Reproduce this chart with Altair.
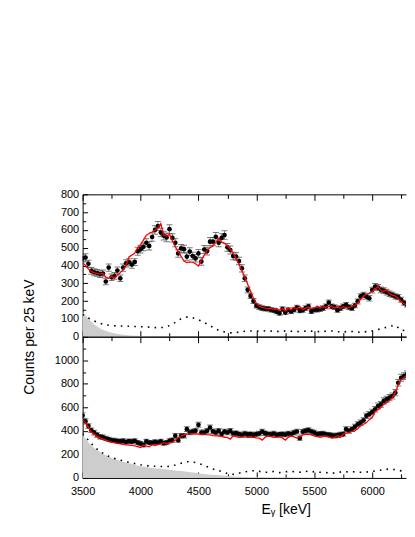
import altair as alt
import pandas as pd

# ---------------- data ----------------
E = [3500, 3525, 3550, 3575, 3600, 3625, 3650, 3675,
     3700, 3725, 3750, 3775, 3800, 3825, 3850, 3875,
     3900, 3925, 3950, 3975, 4000, 4025, 4050, 4075,
     4100, 4125, 4150, 4175, 4200, 4225, 4250, 4275,
     4300, 4325, 4350, 4375, 4400, 4425, 4450, 4475,
     4500, 4525, 4550, 4575, 4600, 4625, 4650, 4675,
     4700, 4725, 4750, 4775, 4800, 4825, 4850, 4875,
     4900, 4925, 4950, 4975, 5000, 5025, 5050, 5075,
     5100, 5125, 5150, 5175, 5200, 5225, 5250, 5275,
     5300, 5325, 5350, 5375, 5400, 5425, 5450, 5475,
     5500, 5525, 5550, 5575, 5600, 5625, 5650, 5675,
     5700, 5725, 5750, 5775, 5800, 5825, 5850, 5875,
     5900, 5925, 5950, 5975, 6000, 6025, 6050, 6075,
     6100, 6125, 6150, 6175, 6200, 6225, 6250, 6275,
     6300, 6325, 6350]

TOP_COUNTS = [440, 445, 410, 370, 362, 358, 352, 355,
              310, 388, 334, 341, 372, 328, 388, 412,
              418, 405, 420, 480, 492, 505, 528, 510,
              560, 600, 622, 585, 568, 558, 604, 555,
              528, 468, 496, 492, 450, 478, 453, 440,
              468, 422, 490, 481, 534, 534, 561, 528,
              555, 571, 502, 487, 453, 450, 425, 384,
              328, 263, 229, 200, 174, 166, 160, 157,
              157, 151, 147, 140, 132, 155, 136, 151,
              142, 150, 164, 146, 149, 160, 170, 142,
              151, 151, 155, 160, 170, 192, 170, 166,
              149, 160, 170, 179, 166, 160, 175, 198,
              226, 235, 225, 216, 262, 282, 276, 263,
              259, 250, 241, 235, 226, 222, 207, 190,
              179, 179, 198]

TOP_ERR = [21, 21, 20, 19, 19, 19, 19, 19,
           18, 20, 18, 19, 19, 18, 20, 20,
           20, 20, 20, 22, 22, 22, 23, 23,
           24, 24, 25, 24, 24, 24, 25, 23,
           23, 22, 22, 22, 21, 22, 21, 21,
           22, 21, 22, 22, 23, 23, 24, 23,
           24, 24, 22, 22, 21, 21, 21, 20,
           18, 16, 15, 14, 13, 13, 13, 13,
           13, 13, 12, 12, 12, 13, 12, 12,
           12, 12, 13, 12, 12, 13, 13, 12,
           12, 12, 13, 13, 13, 14, 13, 13,
           12, 13, 13, 13, 13, 13, 13, 14,
           15, 15, 15, 15, 16, 17, 17, 16,
           16, 16, 16, 15, 15, 15, 14, 14,
           13, 13, 14]

TOP_FIT = [415, 400, 380, 366, 360, 355, 352, 356,
           334, 328, 340, 328, 345, 360, 375, 400,
           448, 458, 470, 500, 515, 543, 570, 580,
           588, 600, 610, 636, 570, 565, 575, 540,
           505, 478, 452, 425, 416, 420, 418, 410,
           397, 430, 458, 485, 500, 510, 530, 552,
           530, 525, 510, 492, 468, 440, 405, 370,
           335, 295, 255, 215, 188, 172, 165, 160,
           158, 160, 152, 158, 148, 158, 145, 160,
           150, 165, 155, 170, 152, 160, 165, 158,
           160, 172, 160, 168, 165, 170, 172, 160,
           170, 158, 168, 162, 165, 170, 175, 188,
           210, 228, 238, 244, 255, 267, 282, 258,
           255, 263, 240, 232, 229, 215, 198, 185,
           179, 188, 180]

BOT_COUNTS = [530, 480, 440, 405, 385, 365, 350, 345,
              335, 328, 320, 318, 312, 310, 315, 305,
              312, 308, 315, 300, 292, 280, 310, 300,
              298, 306, 300, 310, 295, 301, 315, 321,
              358, 321, 358, 358, 414, 386, 394, 400,
              451, 386, 386, 400, 428, 395, 386, 400,
              372, 394, 386, 400, 377, 380, 372, 365,
              377, 370, 372, 366, 372, 377, 394, 380,
              372, 370, 377, 366, 370, 372, 368, 377,
              372, 385, 394, 338, 392, 400, 406, 394,
              385, 372, 375, 377, 370, 366, 362, 358,
              363, 368, 372, 414, 400, 414, 434, 456,
              470, 490, 527, 541, 560, 583, 611, 625,
              654, 668, 682, 696, 724, 808, 851, 865,
              879, 935, 1006]

BOT_ERR = [23, 22, 21, 20, 20, 19, 19, 19,
           18, 18, 18, 18, 18, 18, 18, 17,
           18, 18, 18, 17, 17, 17, 18, 17,
           17, 18, 17, 18, 17, 17, 18, 18,
           19, 18, 19, 19, 20, 20, 20, 20,
           21, 20, 20, 20, 21, 20, 20, 20,
           19, 20, 20, 20, 19, 19, 19, 19,
           19, 19, 19, 19, 19, 19, 20, 19,
           19, 19, 19, 19, 19, 19, 19, 19,
           19, 20, 20, 18, 20, 20, 20, 20,
           20, 19, 19, 19, 19, 19, 19, 19,
           19, 19, 19, 20, 20, 20, 21, 21,
           22, 22, 23, 23, 23, 24, 25, 25,
           26, 26, 26, 26, 27, 28, 29, 29,
           30, 31, 32]

BOT_FIT = [495, 470, 430, 390, 372, 355, 340, 330,
           321, 312, 305, 300, 293, 290, 285, 280,
           279, 276, 273, 266, 259, 280, 270, 265,
           282, 275, 282, 290, 300, 290, 300, 305,
           320, 344, 358, 365, 372, 375, 377, 375,
           372, 372, 372, 368, 365, 360, 358, 360,
           352, 344, 344, 330, 358, 350, 344, 348,
           349, 345, 344, 344, 340, 338, 321, 345,
           358, 350, 344, 346, 349, 340, 321, 345,
           358, 348, 338, 352, 366, 370, 372, 365,
           358, 350, 344, 350, 358, 348, 338, 344,
           358, 344, 372, 380, 386, 395, 400, 420,
           442, 456, 470, 495, 513, 563, 580, 597,
           625, 639, 660, 682, 724, 794, 837, 851,
           875, 907, 963]

# smooth background components, sampled every 50 keV
BG_E = [3500, 3550, 3600, 3650, 3700, 3750, 3800, 3850, 3900, 3950,
        4000, 4050, 4100, 4150, 4200, 4250, 4300, 4350, 4400, 4450,
        4500, 4550, 4600, 4650, 4700, 4750, 4800, 4850, 4900, 4950,
        5000, 5050, 5100, 5150, 5200, 5250, 5300, 5350, 5400, 5450,
        5500, 5550, 5600, 5650, 5700, 5750, 5800, 5850, 5900, 5950,
        6000, 6050, 6100, 6150, 6200, 6250, 6300, 6350]

TOP_DOTTED = [125, 105, 88, 75, 66, 62, 60, 60, 58, 57,
              56, 55, 52, 50, 52, 62, 80, 100, 110, 106,
              95, 80, 62, 42, 30, 24, 20, 26, 30, 32,
              30, 34, 30, 32, 28, 32, 30, 28, 30, 32,
              30, 28, 30, 32, 28, 26, 30, 28, 24, 28,
              32, 40, 48, 58, 64, 36, 34, 38]

BOT_DOTTED = [375, 320, 265, 225, 195, 172, 158, 145, 132, 122,
              112, 104, 100, 98, 96, 98, 110, 125, 138, 135,
              125, 105, 85, 68, 55, 38, 30, 40, 52, 60,
              62, 50, 48, 55, 45, 52, 56, 48, 50, 58,
              52, 48, 45, 40, 45, 55, 50, 52, 48, 50,
              55, 62, 70, 76, 70, 60, 58, 62]

TOP_GREY = [140, 100, 68, 46, 32, 22, 15, 10, 7, 5,
            4, 3, 3, 2, 2, 2, 1, 1, 1, 1,
            1, 0, 0, 0, 0, 0, 0, 0, 0, 0,
            0, 0, 0, 0, 0, 0, 0, 0, 0, 0,
            0, 0, 0, 0, 0, 0, 0, 0, 0, 0,
            0, 0, 0, 0, 0, 0, 0, 0]

BOT_GREY = [365, 300, 255, 220, 192, 170, 152, 138, 125, 112,
            100, 92, 85, 80, 75, 70, 64, 58, 52, 46,
            40, 34, 28, 24, 20, 16, 12, 10, 8, 6,
            5, 5, 4, 4, 3, 3, 3, 2, 2, 2,
            2, 1, 1, 1, 1, 1, 1, 0, 0, 0,
            0, 0, 0, 0, 0, 0, 0, 0]

X_MAJOR = [3500, 4000, 4500, 5000, 5500, 6000]
X_MINOR = [3750, 4250, 4750, 5250, 5750, 6250]
TOP_Y_MAJOR = [0, 100, 200, 300, 400, 500, 600, 700, 800]
TOP_Y_MINOR = [50, 150, 250, 350, 450, 550, 650, 750]
BOT_Y_MAJOR = [0, 200, 400, 600, 800, 1000]
BOT_Y_MINOR = [100, 300, 500, 700, 900, 1100]

# ---------------- styling ----------------
FONT = "Liberation Sans"
XMIN, XMAX = 3500, 6292
W = 325
GREY = "#cdcdcd"


def frame_axis(orient, **kw):
    d = dict(orient=orient, domain=True, domainColor="#000000", domainWidth=1,
             ticks=False, tickSize=0, grid=False, labels=False, title=None,
             labelFlush=False)
    d.update(kw)
    return alt.Axis(**d)


def tick_axis(orient, values, size):
    return alt.Axis(orient=orient, values=values, domain=False, ticks=True,
                    tickSize=size, tickColor="#000000", tickWidth=1,
                    labels=False, grid=False, offset=-size, title=None)


def panel(counts, err, fit, dotted, grey, ymax, ymajor, yminor, h, bottom):
    pts = pd.DataFrame({"E": E, "c": counts,
                        "lo": [c - e for c, e in zip(counts, err)],
                        "hi": [c + e for c, e in zip(counts, err)]})
    caps = pd.DataFrame({"E": E + E, "v": list(pts["lo"]) + list(pts["hi"])})
    fitdf = pd.DataFrame({"E": E, "f": fit})
    dotdf = pd.DataFrame({"E": BG_E, "d": dotted})
    greydf = pd.DataFrame({"E": BG_E, "g": grey})

    xs = alt.Scale(domain=[XMIN, XMAX], nice=False, zero=False)
    ys = alt.Scale(domain=[0, ymax], nice=False, zero=True)

    if bottom:
        xb = frame_axis("bottom", labels=True, values=X_MAJOR, format="d",
                        labelFontSize=11, labelPadding=7.5,
                        title="E\u1d67 [keV]", titleFontSize=14,
                        titleFontWeight="normal", titleX=204, titleY=25,
                        titleAlign="center", titleBaseline="top")
        yl = frame_axis("left", labels=True, values=ymajor, format="d",
                        labelFontSize=11, labelPadding=4)
    else:
        xb = frame_axis("bottom")
        yl = frame_axis("left", labels=True, values=ymajor, format="d",
                        labelFontSize=11, labelPadding=4,
                        title="Counts per 25 keV", titleFontSize=14,
                        titleFontWeight="normal", titleX=-46, titleY=h,
                        titleAngle=270, titleAlign="center",
                        titleBaseline="bottom")

    area = alt.Chart(greydf).mark_area(color=GREY, clip=True).encode(
        x=alt.X("E:Q", scale=xs, axis=xb),
        y=alt.Y("g:Q", scale=ys, axis=yl))
    dots = alt.Chart(dotdf).mark_line(color="#000000", strokeWidth=1.6,
                                      strokeDash=[1.6, 5.2], clip=True).encode(
        x=alt.X("E:Q", scale=xs, axis=tick_axis("bottom", X_MAJOR, 6)),
        y=alt.Y("d:Q", scale=ys, axis=tick_axis("left", ymajor, 5)))
    bars = alt.Chart(pts).mark_rule(color="#8c8c8c", strokeWidth=1, clip=True).encode(
        x=alt.X("E:Q", scale=xs, axis=tick_axis("bottom", X_MINOR, 4)),
        y=alt.Y("lo:Q", scale=ys, axis=tick_axis("left", yminor, 3)),
        y2="hi:Q")
    capl = alt.Chart(caps).mark_tick(orient="horizontal", size=6, thickness=1,
                                     color="#444444", clip=True).encode(
        x=alt.X("E:Q", scale=xs, axis=frame_axis("top")),
        y=alt.Y("v:Q", scale=ys, axis=None))
    points = alt.Chart(pts).mark_circle(size=22, color="#000000", opacity=1,
                                        clip=True).encode(
        x=alt.X("E:Q", scale=xs, axis=tick_axis("top", X_MAJOR, 6)),
        y=alt.Y("c:Q", scale=ys, axis=None))
    fitl = alt.Chart(fitdf).mark_line(color="#ff0000", strokeWidth=1.3,
                                      clip=True).encode(
        x=alt.X("E:Q", scale=xs, axis=tick_axis("top", X_MINOR, 4)),
        y=alt.Y("f:Q", scale=ys, axis=None))

    return alt.layer(area, dots, bars, capl, points, fitl).resolve_axis(
        x="independent", y="independent").properties(width=W, height=h)


top = panel(TOP_COUNTS, TOP_ERR, TOP_FIT, TOP_DOTTED, TOP_GREY,
            800, TOP_Y_MAJOR, TOP_Y_MINOR, 143, False)
bot = panel(BOT_COUNTS, BOT_ERR, BOT_FIT, BOT_DOTTED, BOT_GREY,
            1200, BOT_Y_MAJOR, BOT_Y_MINOR, 142, True)

chart = alt.vconcat(top, bot, spacing=0, bounds="flush").resolve_scale(
    x="independent", y="independent").resolve_axis(
    x="independent", y="independent").properties(
    padding={"left": 14, "top": 179, "right": 0, "bottom": 0}
).configure_view(stroke="transparent").configure_axis(
    labelFont=FONT, titleFont=FONT, labelColor="#000000", titleColor="#000000")

chart.save("out.html", embed_options={"renderer": "svg", "actions": False})
